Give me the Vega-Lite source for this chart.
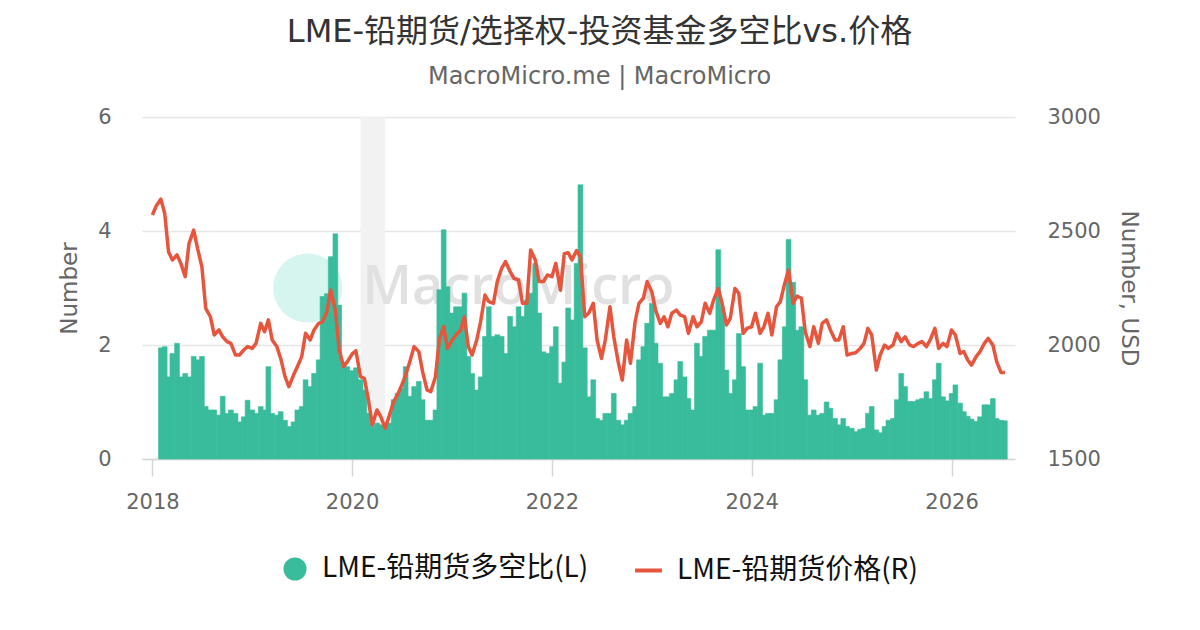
{
  "$schema": "https://vega.github.io/schema/vega-lite/v6.json",
  "width": 873,
  "height": 342,
  "autosize": "none",
  "padding": {"left": 142, "top": 117, "right": 185, "bottom": 171},
  "background": "white",
  "title": {
    "text": "LME-铅期货/选择权-投资基金多空比vs.价格",
    "subtitle": "MacroMicro.me | MacroMicro",
    "anchor": "middle",
    "dx": 21,
    "offset": 16,
    "font": "DejaVu Sans, Noto Sans CJK SC",
    "fontSize": 32,
    "fontWeight": "normal",
    "color": "#333333",
    "subtitleFont": "DejaVu Sans",
    "subtitleFontSize": 24,
    "subtitleColor": "#666666",
    "subtitlePadding": 16
  },
  "datasets": {
    "lead": [
      {"d": "2018-01-01", "v": null, "p": 2570},
      {"d": "2018-01-15", "v": null, "p": 2610},
      {"d": "2018-02-01", "v": 1.95, "p": 2640},
      {"d": "2018-02-15", "v": 1.97, "p": 2577},
      {"d": "2018-03-01", "v": 1.44, "p": 2409},
      {"d": "2018-03-15", "v": 1.85, "p": 2373},
      {"d": "2018-04-01", "v": 2.03, "p": 2395},
      {"d": "2018-04-15", "v": 1.44, "p": 2358},
      {"d": "2018-05-01", "v": 1.50, "p": 2300},
      {"d": "2018-05-15", "v": 1.44, "p": 2446},
      {"d": "2018-06-01", "v": 1.80, "p": 2504},
      {"d": "2018-06-15", "v": 1.74, "p": 2424},
      {"d": "2018-07-01", "v": 1.80, "p": 2343},
      {"d": "2018-07-15", "v": 0.92, "p": 2161},
      {"d": "2018-08-01", "v": 0.86, "p": 2124},
      {"d": "2018-08-15", "v": 0.86, "p": 2044},
      {"d": "2018-09-01", "v": 0.77, "p": 2066},
      {"d": "2018-09-15", "v": 1.10, "p": 2036},
      {"d": "2018-10-01", "v": 0.80, "p": 2015},
      {"d": "2018-10-15", "v": 0.86, "p": 2007},
      {"d": "2018-11-01", "v": 0.80, "p": 1956},
      {"d": "2018-11-15", "v": 0.65, "p": 1956},
      {"d": "2018-12-01", "v": 0.74, "p": 1978},
      {"d": "2018-12-15", "v": 1.03, "p": 1993},
      {"d": "2019-01-01", "v": 0.86, "p": 1985},
      {"d": "2019-01-15", "v": 0.80, "p": 2007},
      {"d": "2019-02-01", "v": 0.92, "p": 2095},
      {"d": "2019-02-15", "v": 0.86, "p": 2058},
      {"d": "2019-03-01", "v": 1.62, "p": 2110},
      {"d": "2019-03-15", "v": 0.80, "p": 2022},
      {"d": "2019-04-01", "v": 0.77, "p": 1993},
      {"d": "2019-04-15", "v": 0.83, "p": 1941},
      {"d": "2019-05-01", "v": 0.68, "p": 1861},
      {"d": "2019-05-15", "v": 0.57, "p": 1817},
      {"d": "2019-06-01", "v": 0.65, "p": 1868},
      {"d": "2019-06-15", "v": 0.86, "p": 1905},
      {"d": "2019-07-01", "v": 0.92, "p": 1949},
      {"d": "2019-07-15", "v": 1.39, "p": 2051},
      {"d": "2019-08-01", "v": 1.27, "p": 2022},
      {"d": "2019-08-15", "v": 1.50, "p": 2066},
      {"d": "2019-09-01", "v": 1.74, "p": 2095},
      {"d": "2019-09-15", "v": 2.85, "p": 2102},
      {"d": "2019-10-01", "v": 2.90, "p": 2146},
      {"d": "2019-10-15", "v": 3.55, "p": 2241},
      {"d": "2019-11-01", "v": 3.95, "p": 2153},
      {"d": "2019-11-15", "v": 2.70, "p": 1978},
      {"d": "2019-12-01", "v": 1.70, "p": 1905},
      {"d": "2019-12-15", "v": 1.62, "p": 1927},
      {"d": "2020-01-01", "v": 1.55, "p": 1960},
      {"d": "2020-01-15", "v": 1.60, "p": 1975},
      {"d": "2020-02-01", "v": 1.39, "p": 1861},
      {"d": "2020-02-15", "v": 1.21, "p": 1854},
      {"d": "2020-03-01", "v": 0.80, "p": 1759},
      {"d": "2020-03-15", "v": 0.57, "p": 1649},
      {"d": "2020-04-01", "v": 0.63, "p": 1715},
      {"d": "2020-04-15", "v": 0.60, "p": 1686},
      {"d": "2020-05-01", "v": 0.57, "p": 1635},
      {"d": "2020-05-15", "v": 0.63, "p": 1686},
      {"d": "2020-06-01", "v": 1.04, "p": 1751},
      {"d": "2020-06-15", "v": 1.15, "p": 1781},
      {"d": "2020-07-01", "v": 1.24, "p": 1825},
      {"d": "2020-07-15", "v": 1.62, "p": 1868},
      {"d": "2020-08-01", "v": 1.10, "p": 1934},
      {"d": "2020-08-15", "v": 1.27, "p": 1993},
      {"d": "2020-09-01", "v": 1.36, "p": 1971},
      {"d": "2020-09-15", "v": 1.04, "p": 1883},
      {"d": "2020-10-01", "v": 0.68, "p": 1803},
      {"d": "2020-10-15", "v": 0.68, "p": 1795},
      {"d": "2020-11-01", "v": 0.86, "p": 1861},
      {"d": "2020-11-15", "v": 2.97, "p": 2022},
      {"d": "2020-12-01", "v": 4.02, "p": 2080},
      {"d": "2020-12-15", "v": 3.02, "p": 1985},
      {"d": "2021-01-01", "v": 2.56, "p": 2022},
      {"d": "2021-01-15", "v": 2.67, "p": 2044},
      {"d": "2021-02-01", "v": 2.67, "p": 2066},
      {"d": "2021-02-15", "v": 2.91, "p": 2124},
      {"d": "2021-03-01", "v": 1.80, "p": 1993},
      {"d": "2021-03-15", "v": 1.50, "p": 1956},
      {"d": "2021-04-01", "v": 1.21, "p": 2022},
      {"d": "2021-04-15", "v": 1.44, "p": 2102},
      {"d": "2021-05-01", "v": 2.15, "p": 2219},
      {"d": "2021-05-15", "v": 2.67, "p": 2190},
      {"d": "2021-06-01", "v": 2.15, "p": 2183},
      {"d": "2021-06-15", "v": 2.18, "p": 2278},
      {"d": "2021-07-01", "v": 2.15, "p": 2336},
      {"d": "2021-07-15", "v": 1.85, "p": 2366},
      {"d": "2021-08-01", "v": 2.50, "p": 2322},
      {"d": "2021-08-15", "v": 2.32, "p": 2292},
      {"d": "2021-09-01", "v": 2.67, "p": 2285},
      {"d": "2021-09-15", "v": 2.50, "p": 2183},
      {"d": "2021-10-01", "v": 2.79, "p": 2183},
      {"d": "2021-10-15", "v": 2.91, "p": 2417},
      {"d": "2021-11-01", "v": 3.43, "p": 2373},
      {"d": "2021-11-15", "v": 2.56, "p": 2278},
      {"d": "2021-12-01", "v": 1.88, "p": 2278},
      {"d": "2021-12-15", "v": 1.85, "p": 2307},
      {"d": "2022-01-01", "v": 1.97, "p": 2300},
      {"d": "2022-01-15", "v": 2.32, "p": 2358},
      {"d": "2022-02-01", "v": 1.33, "p": 2240},
      {"d": "2022-02-15", "v": 1.70, "p": 2400},
      {"d": "2022-03-01", "v": 2.65, "p": 2405},
      {"d": "2022-03-15", "v": 2.44, "p": 2373},
      {"d": "2022-04-01", "v": 3.43, "p": 2414},
      {"d": "2022-04-15", "v": 4.81, "p": 2387},
      {"d": "2022-05-01", "v": 1.95, "p": 2124},
      {"d": "2022-05-15", "v": 1.09, "p": 2139},
      {"d": "2022-06-01", "v": 1.39, "p": 2183},
      {"d": "2022-06-15", "v": 0.71, "p": 2022},
      {"d": "2022-07-01", "v": 0.68, "p": 1941},
      {"d": "2022-07-15", "v": 0.80, "p": 2022},
      {"d": "2022-08-01", "v": 0.80, "p": 2168},
      {"d": "2022-08-15", "v": 1.15, "p": 2036},
      {"d": "2022-09-01", "v": 0.68, "p": 1920},
      {"d": "2022-09-15", "v": 0.60, "p": 1846},
      {"d": "2022-10-01", "v": 0.68, "p": 2022},
      {"d": "2022-10-15", "v": 0.80, "p": 1920},
      {"d": "2022-11-01", "v": 0.92, "p": 2102},
      {"d": "2022-11-15", "v": 1.74, "p": 2183},
      {"d": "2022-12-01", "v": 1.97, "p": 2205},
      {"d": "2022-12-15", "v": 2.38, "p": 2278},
      {"d": "2023-01-01", "v": 2.73, "p": 2234},
      {"d": "2023-01-15", "v": 2.03, "p": 2153},
      {"d": "2023-02-01", "v": 1.68, "p": 2095},
      {"d": "2023-02-15", "v": 1.09, "p": 2124},
      {"d": "2023-03-01", "v": 1.09, "p": 2080},
      {"d": "2023-03-15", "v": 1.15, "p": 2139},
      {"d": "2023-04-01", "v": 1.39, "p": 2153},
      {"d": "2023-04-15", "v": 1.71, "p": 2131},
      {"d": "2023-05-01", "v": 1.44, "p": 2124},
      {"d": "2023-05-15", "v": 1.06, "p": 2051},
      {"d": "2023-06-01", "v": 0.86, "p": 2124},
      {"d": "2023-06-15", "v": 2.03, "p": 2080},
      {"d": "2023-07-01", "v": 1.80, "p": 2102},
      {"d": "2023-07-15", "v": 2.15, "p": 2183},
      {"d": "2023-08-01", "v": 2.26, "p": 2139},
      {"d": "2023-08-15", "v": 2.26, "p": 2197},
      {"d": "2023-09-01", "v": 3.67, "p": 2248},
      {"d": "2023-09-15", "v": 2.67, "p": 2183},
      {"d": "2023-10-01", "v": 1.56, "p": 2088},
      {"d": "2023-10-15", "v": 1.15, "p": 2117},
      {"d": "2023-11-01", "v": 1.39, "p": 2248},
      {"d": "2023-11-15", "v": 2.20, "p": 2227},
      {"d": "2023-12-01", "v": 1.62, "p": 2051},
      {"d": "2023-12-15", "v": 0.86, "p": 2073},
      {"d": "2024-01-01", "v": 0.86, "p": 2080},
      {"d": "2024-01-15", "v": 0.92, "p": 2139},
      {"d": "2024-02-01", "v": 1.68, "p": 2051},
      {"d": "2024-02-15", "v": 0.77, "p": 2080},
      {"d": "2024-03-01", "v": 0.80, "p": 2139},
      {"d": "2024-03-15", "v": 0.80, "p": 2044},
      {"d": "2024-04-01", "v": 1.04, "p": 2168},
      {"d": "2024-04-15", "v": 1.74, "p": 2190},
      {"d": "2024-05-01", "v": 2.32, "p": 2270},
      {"d": "2024-05-15", "v": 3.85, "p": 2329},
      {"d": "2024-06-01", "v": 3.10, "p": 2183},
      {"d": "2024-06-15", "v": 2.26, "p": 2215},
      {"d": "2024-07-01", "v": 2.32, "p": 2205},
      {"d": "2024-07-15", "v": 1.39, "p": 2058},
      {"d": "2024-08-01", "v": 0.77, "p": 1993},
      {"d": "2024-08-15", "v": 0.86, "p": 2080},
      {"d": "2024-09-01", "v": 0.77, "p": 2007},
      {"d": "2024-09-15", "v": 0.80, "p": 2095},
      {"d": "2024-10-01", "v": 1.00, "p": 2110},
      {"d": "2024-10-15", "v": 0.89, "p": 2066},
      {"d": "2024-11-01", "v": 0.71, "p": 2022},
      {"d": "2024-11-15", "v": 0.60, "p": 2022},
      {"d": "2024-12-01", "v": 0.71, "p": 2080},
      {"d": "2024-12-15", "v": 0.57, "p": 1956},
      {"d": "2025-01-01", "v": 0.54, "p": 1963},
      {"d": "2025-01-15", "v": 0.48, "p": 1966},
      {"d": "2025-02-01", "v": 0.52, "p": 1985},
      {"d": "2025-02-15", "v": 0.54, "p": 2007},
      {"d": "2025-03-01", "v": 0.80, "p": 2073},
      {"d": "2025-03-15", "v": 0.92, "p": 2044},
      {"d": "2025-04-01", "v": 0.51, "p": 1890},
      {"d": "2025-04-15", "v": 0.46, "p": 1956},
      {"d": "2025-05-01", "v": 0.57, "p": 2000},
      {"d": "2025-05-15", "v": 0.68, "p": 1985},
      {"d": "2025-06-01", "v": 0.71, "p": 2000},
      {"d": "2025-06-15", "v": 1.04, "p": 2051},
      {"d": "2025-07-01", "v": 1.50, "p": 2015},
      {"d": "2025-07-15", "v": 1.27, "p": 2036},
      {"d": "2025-08-01", "v": 1.01, "p": 2000},
      {"d": "2025-08-15", "v": 1.01, "p": 1993},
      {"d": "2025-09-01", "v": 1.04, "p": 2007},
      {"d": "2025-09-15", "v": 1.06, "p": 2015},
      {"d": "2025-10-01", "v": 1.18, "p": 1993},
      {"d": "2025-10-15", "v": 1.06, "p": 2022},
      {"d": "2025-11-01", "v": 1.39, "p": 2073},
      {"d": "2025-11-15", "v": 1.68, "p": 1985},
      {"d": "2025-12-01", "v": 1.09, "p": 2007},
      {"d": "2025-12-15", "v": 1.02, "p": 1993},
      {"d": "2026-01-01", "v": 1.15, "p": 2066},
      {"d": "2026-01-15", "v": 1.30, "p": 2044},
      {"d": "2026-02-01", "v": 0.98, "p": 1963},
      {"d": "2026-02-15", "v": 0.83, "p": 1971},
      {"d": "2026-03-01", "v": 0.75, "p": 1934},
      {"d": "2026-03-15", "v": 0.70, "p": 1912},
      {"d": "2026-04-01", "v": 0.66, "p": 1949},
      {"d": "2026-04-15", "v": 0.74, "p": 1971},
      {"d": "2026-05-01", "v": 0.95, "p": 2007},
      {"d": "2026-05-15", "v": 0.95, "p": 2029},
      {"d": "2026-06-01", "v": 1.06, "p": 2000},
      {"d": "2026-06-15", "v": 0.71, "p": 1927},
      {"d": "2026-07-01", "v": 0.68, "p": 1879},
      {"d": "2026-07-15", "v": 0.67, "p": 1879}
    ]
  },
  "layer": [
    {
      "layer": [
        {
          "data": {"values": [{"start": "2020-02-01", "end": "2020-05-01"}]},
          "mark": {"type": "rect", "color": "#f1f2f1"},
          "encoding": {
            "x": {"field": "start", "type": "temporal", "title": null},
            "x2": {"field": "end"}
          }
        },
        {
          "data": {"values": [{"label": "MacroMicro"}]},
          "mark": {"type": "point", "shape": "circle", "filled": true, "size": 4780, "color": "#d6f5ee", "opacity": 1},
          "encoding": {
            "x": {"datum": {"year": 2019, "month": 7, "date": 23}, "type": "temporal", "title": null}
          }
        },
        {
          "data": {"values": [{"label": "MacroMicro"}]},
          "mark": {"type": "text", "font": "Open Sans", "fontWeight": 600, "fontSize": 54, "color": "#e1e1e1", "align": "center", "baseline": "middle"},
          "encoding": {
            "x": {"datum": {"year": 2021, "month": 8, "date": 31}, "type": "temporal", "title": null},
            "text": {"field": "label"}
          }
        },
        {
          "data": {"name": "lead"},
          "mark": {"type": "bar", "width": 4.8, "stroke": "#39bc9c", "strokeWidth": 0.6},
          "encoding": {
            "x": {
              "field": "d",
              "type": "temporal",
              "title": null,
              "scale": {"domain": [{"year": 2017, "month": 11, "date": 24}, {"year": 2026, "month": 8, "date": 21}], "nice": false, "padding": 0},
              "axis": {
                "values": [{"year": 2018}, {"year": 2020}, {"year": 2022}, {"year": 2024}, {"year": 2026}],
                "format": "%Y",
                "grid": false,
                "domainColor": "#d6d6d6",
                "domainWidth": 1.5,
                "tickColor": "#d6d6d6",
                "tickWidth": 1.5,
                "tickSize": 17,
                "labelPadding": 15,
                "labelFont": "DejaVu Sans",
                "labelFontSize": 21,
                "labelColor": "#666666"
              }
            },
            "y": {
              "field": "v",
              "type": "quantitative",
              "title": "Number",
              "scale": {"domain": [0, 6]},
              "axis": {
                "values": [0, 2, 4, 6],
                "grid": true,
                "gridColor": "#e6e6e6",
                "gridWidth": 1.5,
                "domain": false,
                "ticks": false,
                "labelPadding": 31,
                "labelFont": "DejaVu Sans",
                "labelFontSize": 21,
                "labelColor": "#666666",
                "titleFont": "DejaVu Sans",
                "titleFontSize": 23,
                "titleFontWeight": "normal",
                "titleColor": "#666666",
                "titlePadding": 16
              }
            },
            "color": {
              "datum": "LME-铅期货多空比(L)",
              "scale": {"range": ["#39bc9c"]},
              "legend": {
                "orient": "none",
                "legendX": 139,
                "legendY": 438,
                "title": null,
                "padding": 0,
                "symbolType": "circle",
                "symbolSize": 531,
                "symbolStrokeWidth": 0,
                "labelFont": "Noto Sans CJK SC",
                "labelFontSize": 28,
                "labelColor": "#111111",
                "labelOffset": 13,
                "labelLimit": 0
              }
            }
          }
        }
      ]
    },
    {
      "data": {"name": "lead"},
      "mark": {"type": "line", "strokeWidth": 3.5, "strokeJoin": "round"},
      "encoding": {
        "x": {"field": "d", "type": "temporal", "title": null},
        "y": {
          "field": "p",
          "type": "quantitative",
          "title": "Number, USD",
          "scale": {"domain": [1500, 3000]},
          "axis": {
            "orient": "right",
            "values": [1500, 2000, 2500, 3000],
            "format": "d",
            "grid": false,
            "domain": false,
            "ticks": false,
            "labelPadding": 32,
            "labelFont": "DejaVu Sans",
            "labelFontSize": 21,
            "labelColor": "#666666",
            "titleFont": "DejaVu Sans",
            "titleFontSize": 23,
            "titleFontWeight": "normal",
            "titleColor": "#666666",
            "titlePadding": 16
          }
        },
        "stroke": {
          "datum": "LME-铅期货价格(R)",
          "scale": {"range": ["#e6553c"]},
          "legend": {
            "orient": "none",
            "legendX": 491,
            "legendY": 438,
            "title": null,
            "padding": 0,
            "symbolType": "stroke",
            "symbolSize": 729,
            "symbolStrokeWidth": 4,
            "labelFont": "Noto Sans CJK SC",
            "labelFontSize": 28,
            "labelColor": "#111111",
            "labelOffset": 13,
            "labelLimit": 0
          }
        }
      }
    }
  ],
  "resolve": {"scale": {"y": "independent"}},
  "config": {
    "view": {"stroke": null},
    "font": "DejaVu Sans"
  }
}
